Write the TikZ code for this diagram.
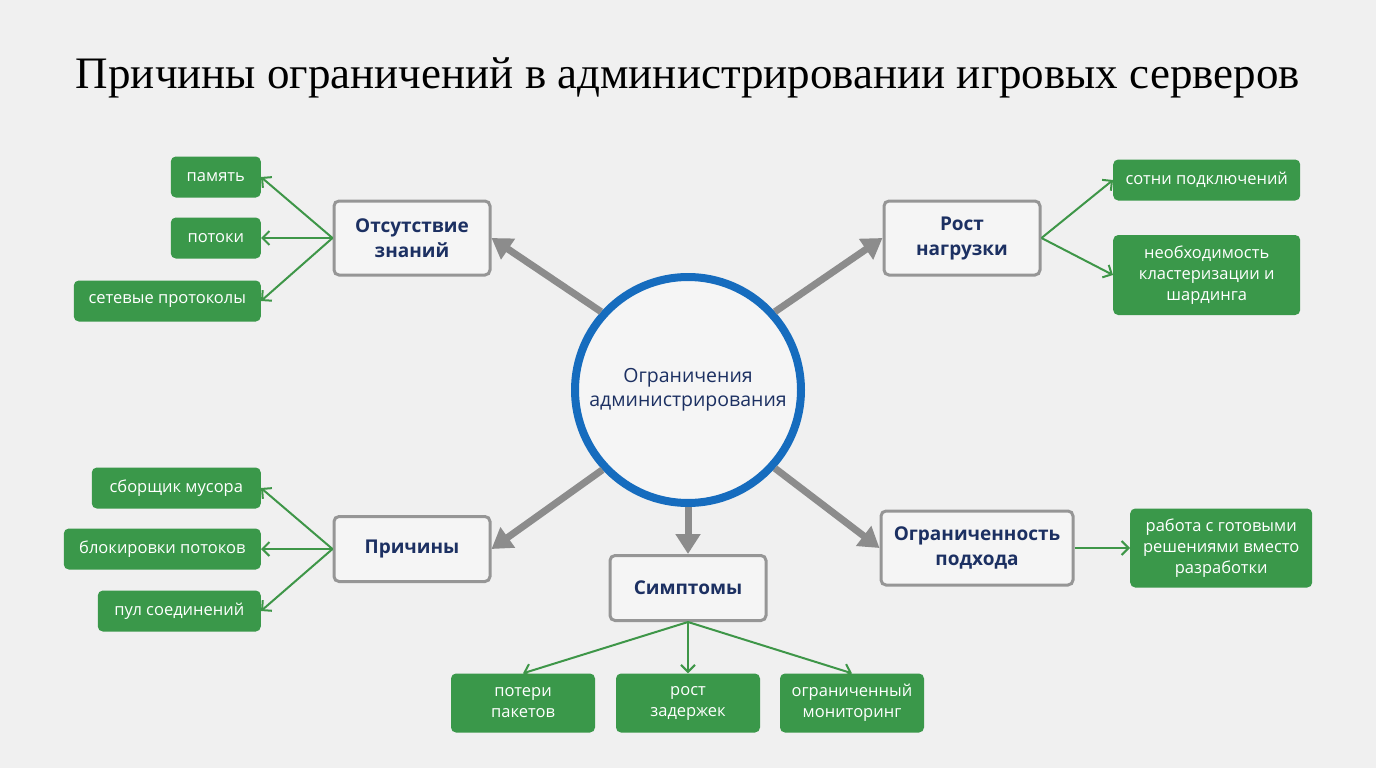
\documentclass[tikz,border=0pt]{standalone}
\usepackage{fontspec}
\setmainfont{Liberation Serif}
\setsansfont{Open Sans}
\usepackage{tikz}
\usetikzlibrary{arrows.meta}

\definecolor{bgcol}{RGB}{240,240,240}
\definecolor{boxfill}{RGB}{245,245,245}
\definecolor{boxline}{RGB}{150,150,150}
\definecolor{arrowgrey}{RGB}{140,140,140}
\definecolor{navy}{RGB}{28,48,98}
\definecolor{ringblue}{RGB}{22,108,190}
\definecolor{leafgreen}{RGB}{58,152,74}
\definecolor{linegreen}{RGB}{62,150,72}

\begin{document}
\begin{tikzpicture}[x=1pt,y=-1pt,
    greybox/.style={draw=boxline, line width=3pt, fill=boxfill, rounded corners=5pt,
      minimum width=156pt, minimum height=74pt, align=center, text=navy,
      font=\sffamily\bfseries\fontsize{19}{25}\selectfont},
    leaf/.style={fill=leafgreen, rounded corners=5pt, align=center, text=white,
      minimum height=41pt, font=\sffamily\fontsize{16.5}{21}\selectfont},
    bigarrow/.style={draw=arrowgrey, line width=7pt, -{Triangle[length=20pt,width=24pt]}},
    smallarrow/.style={draw=linegreen, line width=2pt, -{Straight Barb[length=7pt,width=14pt]}}]
    \fill[bgcol] (0,0) rectangle (1376,768);
    \useasboundingbox (0,0) rectangle (1376,768);

    \node[font=\fontsize{45}{54}\selectfont] (title) at (688,78)
        {Причины ограничений в администрировании игровых серверов};

    % centre
    \node[circle, draw=ringblue, line width=8pt, fill=boxfill, minimum size=226pt,
        align=center, text=navy, font=\sffamily\fontsize{19.5}{24}\selectfont] (C) at (688,390)
        {Ограничения\\администрирования};

    % grey boxes
    \node[greybox] (znan) at (412,238) {Отсутствие\\знаний};
    \node[greybox] (rost) at (962,238) {Рост\\нагрузки};
    \node[greybox, minimum height=65pt] (prich) at (412,549) {Причины};
    \node[greybox, minimum height=65pt] (simp) at (688,588) {Симптомы};
    \node[greybox, minimum width=192pt] (podh) at (977,548) {Ограниченность\\подхода};

    \draw[bigarrow] (C.138) -- (znan.east);
    \draw[bigarrow] (C.42) -- (rost.west);
    \draw[bigarrow] (C.223) -- (prich.east);
    \draw[bigarrow] (C.south) -- (simp.north);
    \draw[bigarrow] (C.318) -- (podh.west);

    % leaves
    \node[leaf, minimum width=90pt, anchor=east] (pam) at (261,177) {память};
    \node[leaf, minimum width=90pt, anchor=east] (pot) at (261,238) {потоки};
    \node[leaf, minimum width=187pt, anchor=east] (set) at (261,301) {сетевые протоколы};

    \node[leaf, minimum width=187pt, anchor=west] (sotni) at (1113,180) {сотни подключений};
    \node[leaf, minimum width=187pt, minimum height=80pt, anchor=west] (klast) at (1113,275)
        {необходимость\\кластеризации и\\шардинга};

    \node[leaf, minimum width=169pt, anchor=east] (sbor) at (261,488) {сборщик мусора};
    \node[leaf, minimum width=197pt, anchor=east] (blok) at (261,549) {блокировки потоков};
    \node[leaf, minimum width=163pt, anchor=east] (pul) at (261,611) {пул соединений};

    \node[leaf, minimum width=144pt, minimum height=59pt] (poter) at (523,703) {потери\\пакетов};
    \node[leaf, minimum width=144pt, minimum height=59pt] (zader) at (688,703) {рост\\задержек};
    \node[leaf, minimum width=144pt, minimum height=59pt] (monit) at (852,703) {ограниченный\\мониторинг};

    \node[leaf, minimum width=182pt, minimum height=79pt, anchor=west] (rabota) at (1130,548)
        {работа с готовыми\\решениями вместо\\разработки};

    \draw[smallarrow] (znan.west) -- (pam.east);
    \draw[smallarrow] (znan.west) -- (pot.east);
    \draw[smallarrow] (znan.west) -- (set.east);
    \draw[smallarrow] (rost.east) -- (sotni.west);
    \draw[smallarrow] (rost.east) -- (klast.west);
    \draw[smallarrow] (prich.west) -- (sbor.east);
    \draw[smallarrow] (prich.west) -- (blok.east);
    \draw[smallarrow] (prich.west) -- (pul.east);
    \draw[smallarrow] (simp.south) -- (poter.north);
    \draw[smallarrow] (simp.south) -- (zader.north);
    \draw[smallarrow] (simp.south) -- (monit.north);
    \draw[smallarrow] (podh.east) -- (rabota.west);
\end{tikzpicture}
\end{document}
